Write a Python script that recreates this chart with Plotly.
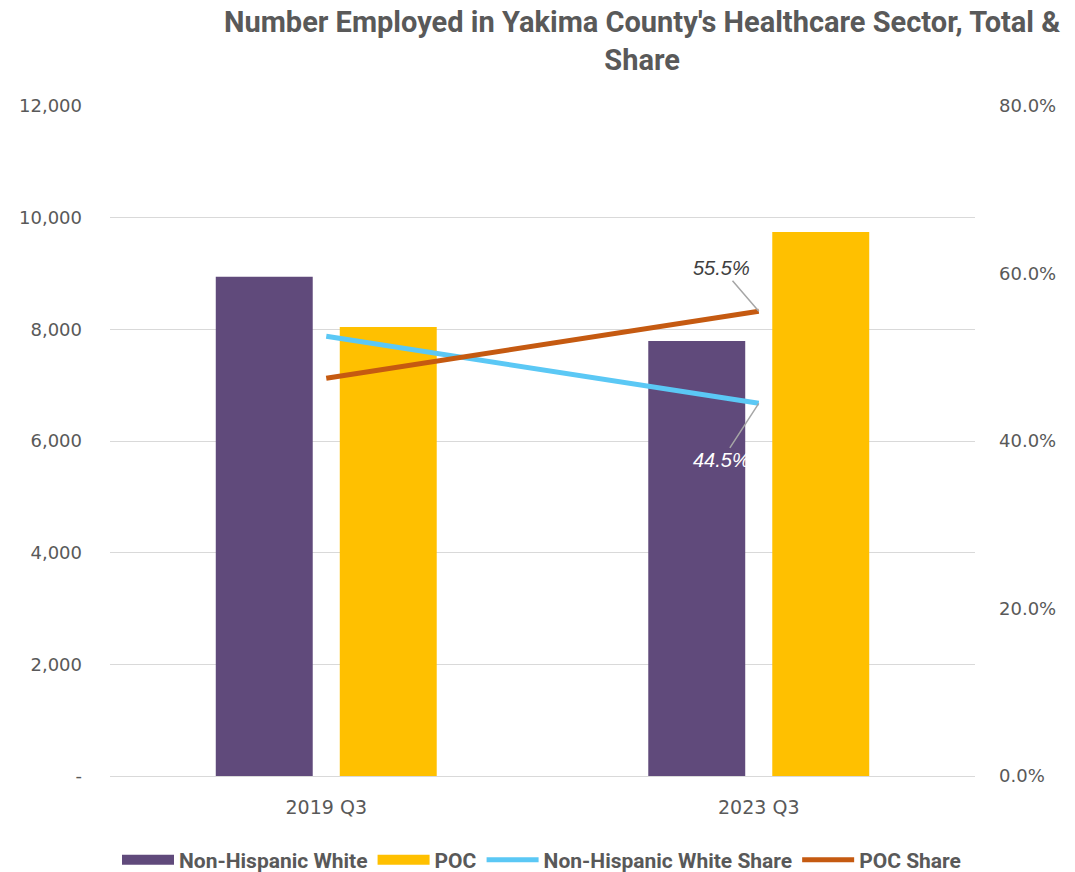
import plotly.graph_objects as go

categories = ["2019 Q3", "2023 Q3"]
nhw_counts = [8940, 7790]
poc_counts = [8040, 9745]
nhw_share = [0.525, 0.445]
poc_share = [0.475, 0.555]

left_ticks = [0, 2000, 4000, 6000, 8000, 10000, 12000]
left_ticktext = ["-", "2,000", "4,000", "6,000", "8,000", "10,000", "12,000"]
right_ticks = [0, 0.2, 0.4, 0.6, 0.8]

TITLE = "Number Employed in Yakima County's Healthcare Sector, Total &<br>Share"

PURPLE = "#604A7B"
GOLD = "#FFC000"
BLUE = "#5BC8F5"
ORANGE = "#C55A11"
GRAY = "#595959"
BOLDFONT = "Roboto, Liberation Sans, sans-serif"
TICKFONT = "DejaVu Sans, Liberation Sans, sans-serif"

fig = go.Figure()
fig.add_trace(go.Bar(x=categories, y=nhw_counts, name="Non-Hispanic White",
                     marker=dict(color=PURPLE, line=dict(width=0)), showlegend=False))
fig.add_trace(go.Bar(x=categories, y=poc_counts, name="POC",
                     marker=dict(color=GOLD, line=dict(width=0)), showlegend=False))
# legend entries for the bars, drawn as wide swatches
fig.add_trace(go.Scatter(x=[None], y=[None], name="Non-Hispanic White", mode="lines",
                         line=dict(color=PURPLE, width=15)))
fig.add_trace(go.Scatter(x=[None], y=[None], name="POC", mode="lines",
                         line=dict(color=GOLD, width=15)))
fig.add_trace(go.Scatter(x=categories, y=nhw_share, name="Non-Hispanic White Share",
                         mode="lines", yaxis="y2",
                         line=dict(color=BLUE, width=5)))
fig.add_trace(go.Scatter(x=categories, y=poc_share, name="POC Share",
                         mode="lines", yaxis="y2",
                         line=dict(color=ORANGE, width=5)))

fig.add_annotation(x=categories[1], y=poc_share[1], xref="x", yref="y2",
                   text="55.5%", showarrow=True, arrowhead=0, arrowwidth=1.5,
                   arrowcolor="#A6A6A6", ax=-37, ay=-43,
                   font=dict(family="Liberation Sans, Arial, sans-serif", size=20,
                             color="#404040", style="italic"))
fig.add_annotation(x=categories[1], y=nhw_share[1], xref="x", yref="y2",
                   text="44.5%", showarrow=True, arrowhead=0, arrowwidth=1.5,
                   arrowcolor="#A6A6A6", ax=-37, ay=57,
                   font=dict(family="Liberation Sans, Arial, sans-serif", size=20,
                             color="#FFFFFF", style="italic"))

# chart title
fig.add_annotation(x=0.615, y=1.097, xref="paper", yref="paper",
                   xanchor="center", yanchor="middle", showarrow=False,
                   text=TITLE, align="center",
                   font=dict(family=BOLDFONT, size=29, color=GRAY, weight="bold"))

fig.update_layout(
    width=1067, height=864,
    paper_bgcolor="white", plot_bgcolor="white",
    margin=dict(l=102, r=100, t=98, b=96, autoexpand=False),
    barmode="group", bargap=0.4266, bargroupgap=0.218,
    font=dict(family=TICKFONT, size=18, color=GRAY),
    xaxis=dict(showgrid=False, showline=True, linecolor="#D9D9D9", linewidth=1,
               ticks="", automargin=False, tickfont=dict(size=19, color=GRAY),
               ticklabelstandoff=14),
    yaxis=dict(range=[0, 12000], tickvals=left_ticks, ticktext=left_ticktext,
               showgrid=True, gridcolor="#D9D9D9", gridwidth=1, automargin=False,
               zeroline=False, showline=False, ticks="", ticklabelstandoff=27,
               tickfont=dict(size=18, color=GRAY)),
    yaxis2=dict(range=[0, 0.8], tickvals=right_ticks, tickformat=".1%",
                overlaying="y", side="right", showgrid=False, zeroline=False,
                automargin=False,
                showline=False, ticks="", ticklabelstandoff=23,
                tickfont=dict(size=18, color=GRAY)),
    legend=dict(orientation="h", xref="container", yref="container",
                x=0.5, xanchor="center", y=1 - 852 / 864, yanchor="middle",
                font=dict(family=BOLDFONT, size=21, color=GRAY, weight="bold"),
                itemwidth=52, traceorder="normal"),
    showlegend=True,
)

fig.write_html("out.html")
